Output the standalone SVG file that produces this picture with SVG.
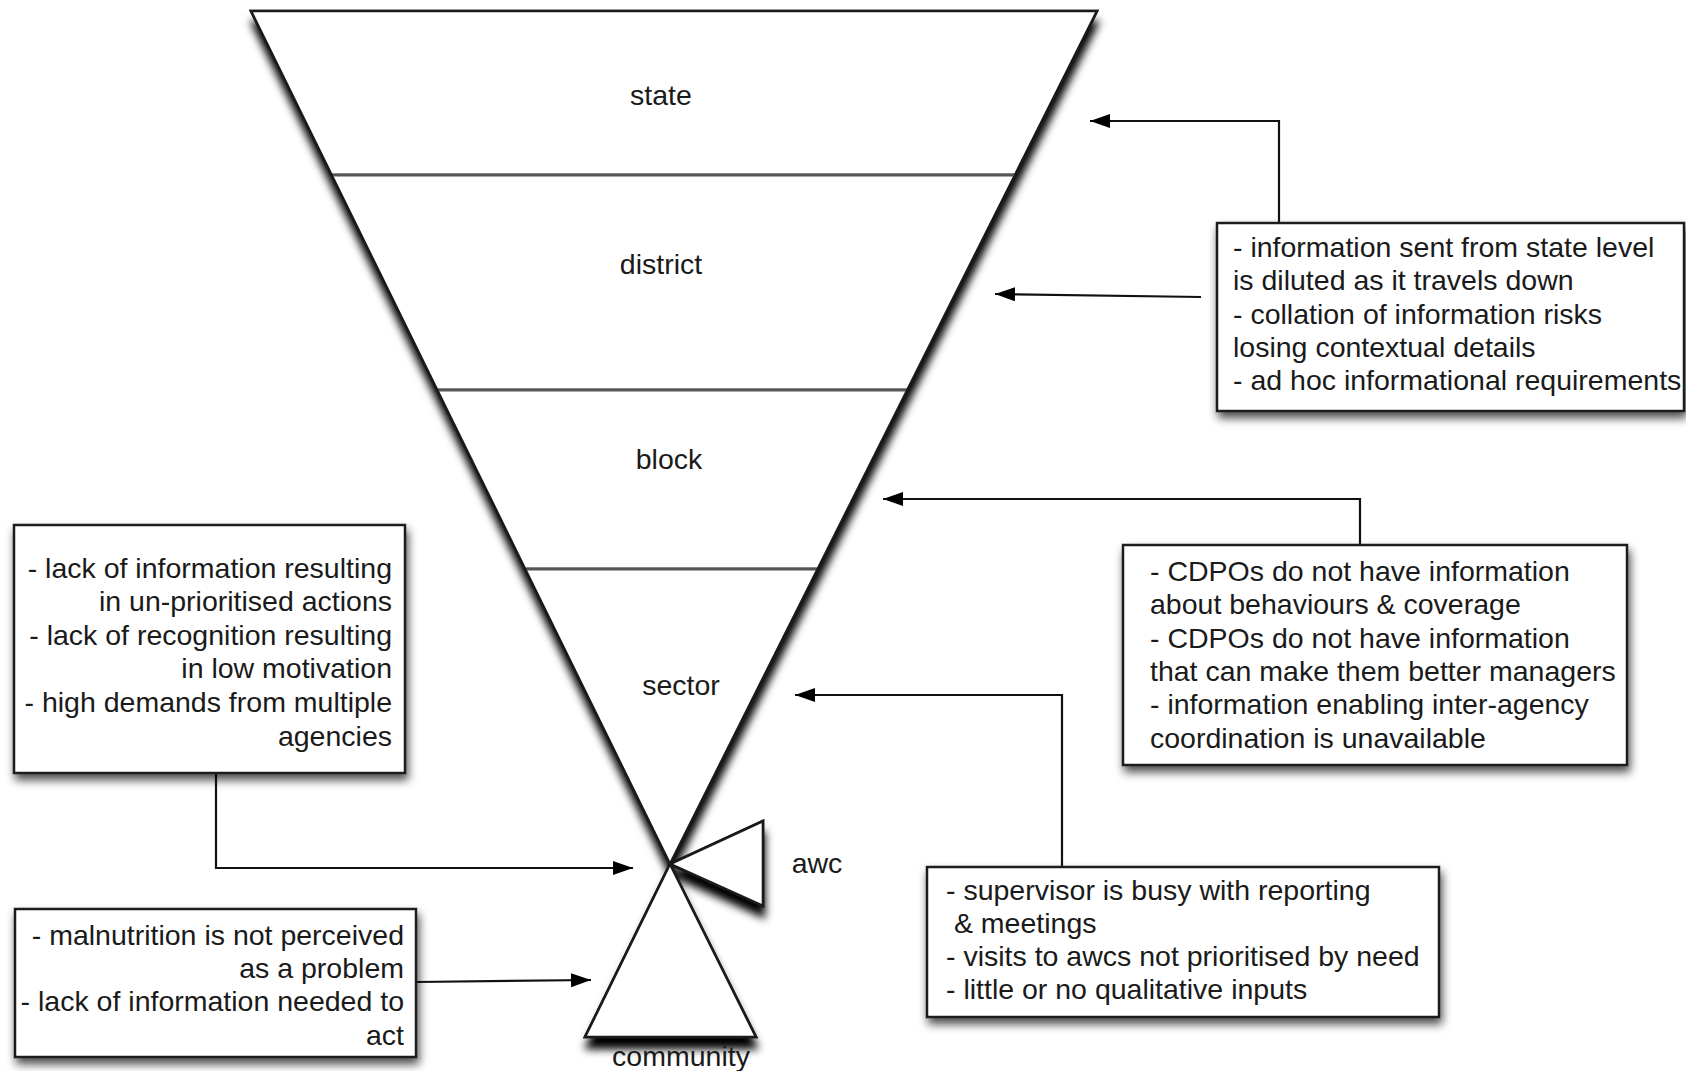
<svg xmlns="http://www.w3.org/2000/svg" width="1686" height="1071" viewBox="0 0 1686 1071">
  <defs>
    <filter id="shadow" x="-15%" y="-15%" width="140%" height="140%">
      <feDropShadow dx="2" dy="6" stdDeviation="5" flood-color="#000" flood-opacity="0.7"/>
    </filter>
    <filter id="funnel-shadow" x="-15%" y="-15%" width="140%" height="140%">
      <feDropShadow dx="1" dy="11" stdDeviation="4.5" flood-color="#000" flood-opacity="1"/>
    </filter>
    <marker id="arrow" markerUnits="userSpaceOnUse" markerWidth="22" markerHeight="16" refX="20" refY="7" orient="auto">
      <path d="M0,0 L20,7 L0,14 Z" fill="#000"/>
    </marker>
  </defs>
  <style>
    .shape { fill: #fff; stroke: #1a1a1a; stroke-width: 2.6; stroke-linejoin: miter; }
    .box { fill: #fff; stroke: #1a1a1a; stroke-width: 2.5; }
    .divider { stroke: #555; stroke-width: 2.5; }
    .label { font-family: "Liberation Sans", Arial, Helvetica, sans-serif; font-size: 28.5px; fill: #1a1a1a; }
    .mid { text-anchor: middle; }
    .right { text-anchor: end; }
    .conn { fill: none; stroke: #111; stroke-width: 2.2; marker-end: url(#arrow); }
  </style>

  <rect width="1686" height="1071" fill="#fff"/>

  <!-- funnel outlines, shadowed as one piece -->
  <g filter="url(#funnel-shadow)">
    <polygon class="shape" points="251,11 1097,11 670,864"/>
    <polygon class="shape" points="670,864 763,821 763,906"/>
    <polygon class="shape" points="670,864 756,1037 585,1037"/>
  </g>

  <!-- funnel levels -->
  <g id="state">
    <polygon class="shape" points="251,11 1097,11 1015,175 331.6,175"/>
    <text class="label mid" x="661" y="105">state</text>
  </g>
  <g id="district">
    <polygon class="shape" points="331.6,175 1015,175 907.3,390 437.2,390"/>
    <text class="label mid" x="661" y="274">district</text>
  </g>
  <g id="block">
    <polygon class="shape" points="437.2,390 907.3,390 817.7,569 525.1,569"/>
    <text class="label mid" x="669" y="469">block</text>
  </g>
  <g id="sector">
    <polygon class="shape" points="525.1,569 817.7,569 670,864"/>
    <text class="label mid" x="681" y="695">sector</text>
  </g>
  <g id="awc">
    <polygon class="shape" points="670,864 763,821 763,906"/>
    <text class="label mid" x="817" y="873">awc</text>
  </g>
  <g id="community">
    <polygon class="shape" points="670,864 756,1037 585,1037"/>
    <text class="label mid" x="681" y="1066">community</text>
  </g>
  <!-- lighter level dividers drawn over the outlines -->
  <line class="divider" x1="333" y1="175" x2="1014" y2="175"/>
  <line class="divider" x1="438.5" y1="390" x2="906" y2="390"/>
  <line class="divider" x1="526.5" y1="569" x2="816.5" y2="569"/>

  <!-- connectors -->
  <g id="connectors">
    <polyline class="conn" points="1279,224 1279,121 1090,121"/>
    <polyline class="conn" points="1201,297 995,294"/>
    <polyline class="conn" points="1360,545 1360,499 883,499"/>
    <polyline class="conn" points="1062,867 1062,695 795,695"/>
    <polyline class="conn" points="216,773 216,868 633,868"/>
    <polyline class="conn" points="416,982 591,980"/>
  </g>

  <!-- annotation boxes -->
  <g id="note-state-district">
    <rect class="box" x="1217" y="223" width="467" height="188" filter="url(#shadow)"/>
    <text class="label" x="1233" y="257">- information sent from state level</text>
    <text class="label" x="1233" y="290">is diluted as it travels down</text>
    <text class="label" x="1233" y="324">- collation of information risks</text>
    <text class="label" x="1233" y="357">losing contextual details</text>
    <text class="label" x="1233" y="390">- ad hoc informational requirements</text>
  </g>

  <g id="note-block">
    <rect class="box" x="1123" y="545" width="504" height="220" filter="url(#shadow)"/>
    <text class="label" x="1150" y="581">- CDPOs do not have information</text>
    <text class="label" x="1150" y="614">about behaviours &amp; coverage</text>
    <text class="label" x="1150" y="648">- CDPOs do not have information</text>
    <text class="label" x="1150" y="681">that can make them better managers</text>
    <text class="label" x="1150" y="714">- information enabling inter-agency</text>
    <text class="label" x="1150" y="748">coordination is unavailable</text>
  </g>

  <g id="note-sector">
    <rect class="box" x="927" y="867" width="512" height="150" filter="url(#shadow)"/>
    <text class="label" x="946" y="900">- supervisor is busy with reporting</text>
    <text class="label" x="946" y="933" xml:space="preserve"> &amp; meetings</text>
    <text class="label" x="946" y="966">- visits to awcs not prioritised by need</text>
    <text class="label" x="946" y="999">- little or no qualitative inputs</text>
  </g>

  <g id="note-awc">
    <rect class="box" x="14" y="525" width="391" height="248" filter="url(#shadow)"/>
    <text class="label right" x="392" y="578">- lack of information resulting</text>
    <text class="label right" x="392" y="611">in un-prioritised actions</text>
    <text class="label right" x="392" y="645">- lack of recognition resulting</text>
    <text class="label right" x="392" y="678">in low motivation</text>
    <text class="label right" x="392" y="712">- high demands from multiple</text>
    <text class="label right" x="392" y="746">agencies</text>
  </g>

  <g id="note-community">
    <rect class="box" x="15" y="909" width="401" height="148" filter="url(#shadow)"/>
    <text class="label right" x="404" y="945">- malnutrition is not perceived</text>
    <text class="label right" x="404" y="978">as a problem</text>
    <text class="label right" x="404" y="1011">- lack of information needed to</text>
    <text class="label right" x="404" y="1045">act</text>
  </g>
</svg>
